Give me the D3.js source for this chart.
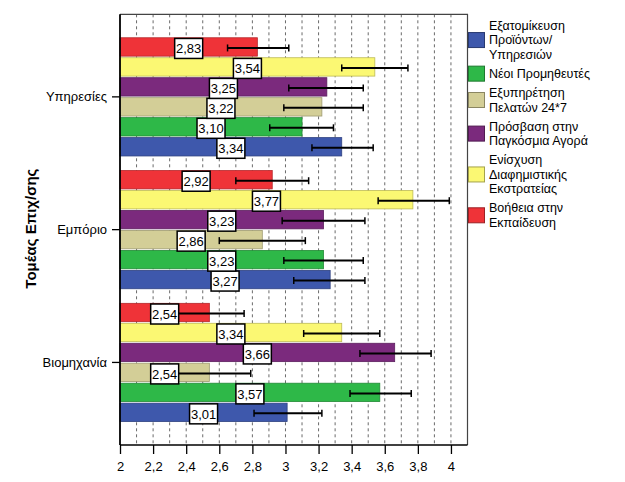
<!DOCTYPE html>
<html><head><meta charset="utf-8">
<script src="https://cdn.jsdelivr.net/npm/d3@7"></script>
<style>
html,body{margin:0;padding:0;background:#fff;}
svg{display:block;font-family:"Liberation Sans",Arial,sans-serif;}
</style></head>
<body><svg id="chart" width="625" height="482"></svg>
<script>
// ---- data ----
const categories = ["Υπηρεσίες", "Εμπόριο", "Βιομηχανία"];
// series in legend order
const seriesKeys = ["blue", "green", "beige", "purple", "yellow", "red"];
const legendLabels = [
  ["Εξατομίκευση", "Προϊόντων/", "Υπηρεσιών"],
  ["Νέοι Προμηθευτές"],
  ["Εξυπηρέτηση", "Πελατών 24*7"],
  ["Πρόσβαση στην", "Παγκόσμια Αγορά"],
  ["Ενίσχυση", "Διαφημιστικής", "Εκστρατείας"],
  ["Βοήθεια στην", "Εκπαίδευση"]
];
const seriesColors = ["#3E58AC", "#2EB848", "#D3CE97", "#7B2A7D", "#FBF873", "#EF3338"];
// values per series, in category order
const valBlue   = [3.34, 3.27, 3.01];
const valGreen  = [3.10, 3.23, 3.57];
const valBeige  = [3.22, 2.86, 2.54];
const valPurple = [3.25, 3.23, 3.66];
const valYellow = [3.54, 3.77, 3.34];
const valRed    = [2.83, 2.92, 2.54];
// confidence interval bounds
const lowBlue   = [3.16, 3.05, 2.81];
const highBlue  = [3.53, 3.48, 3.22];
const lowGreen  = [2.905, 2.99, 3.39];
const highGreen = [3.29, 3.47, 3.76];
const lowBeige  = [2.99, 2.60, 2.29];
const highBeige = [3.47, 3.12, 2.79];
const lowPurple = [3.02, 2.98, 3.45];
const highPurple= [3.47, 3.48, 3.88];
const lowYellow = [3.34, 3.56, 3.11];
const highYellow= [3.74, 3.99, 3.57];
const lowRed    = [2.65, 2.70, 2.34];
const highRed   = [3.02, 3.14, 2.75];
const xTicks = [2, 2.2, 2.4, 2.6, 2.8, 3, 3.2, 3.4, 3.6, 3.8, 4];
const xGrid = d3.range(21, 41).map(d => d / 10);
const yTitle = "Τομέας Επιχ/σης";

const values = [valBlue, valGreen, valBeige, valPurple, valYellow, valRed];
const lows = [lowBlue, lowGreen, lowBeige, lowPurple, lowYellow, lowRed];
const highs = [highBlue, highGreen, highBeige, highPurple, highYellow, highRed];

// ---- layout ----
const svg = d3.select("#chart");
const L = 120, R = 467.5, T = 14.3, B = 445;
const x = d3.scaleLinear().domain([2, 4.1]).range([L, R]);
const y0 = d3.scaleBand().domain(categories).range([T, B]).paddingInner(0.0977).paddingOuter(0.1707);
// bars inside a group, top to bottom: reverse legend order
const barOrder = seriesKeys.slice().reverse();
const y1 = d3.scaleBand().domain(barOrder).range([0, y0.bandwidth()]).paddingInner(0.08).paddingOuter(0.04);

// grid
svg.append("g").selectAll("line").data(xGrid).join("line")
  .attr("x1", d => x(d)).attr("x2", d => x(d))
  .attr("y1", T).attr("y2", B)
  .attr("stroke", "#6a6a6a").attr("stroke-width", 1)
  .attr("stroke-dasharray", "3,3");

// frame top/right
svg.append("path")
  .attr("d", `M${L},${T}H${R}V${B}`)
  .attr("fill", "none").attr("stroke", "#444").attr("stroke-width", 1.2);

// data rows
const rows = [];
categories.forEach((c, ci) => {
  seriesKeys.forEach((k, si) => {
    rows.push({cat: c, key: k, color: seriesColors[si], v: values[si][ci], lo: lows[si][ci], hi: highs[si][ci]});
  });
});

const g = svg.append("g");
// bars
g.selectAll("rect.bar").data(rows).join("rect").attr("class", "bar")
  .attr("x", x(2))
  .attr("y", d => y0(d.cat) + y1(d.key))
  .attr("width", d => x(d.v) - x(2))
  .attr("height", y1.bandwidth())
  .attr("fill", d => d.color)
  .attr("stroke", d => d3.color(d.color).darker(0.8))
  .attr("stroke-width", 0.8);

// error bars
const eb = g.selectAll("g.eb").data(rows).join("g").attr("class", "eb");
const cy = d => y0(d.cat) + y1(d.key) + y1.bandwidth() / 2 + 1;
eb.append("line")
  .attr("x1", d => x(d.lo)).attr("x2", d => x(d.hi))
  .attr("y1", cy).attr("y2", cy)
  .attr("stroke", "#000").attr("stroke-width", 2);
eb.append("line")
  .attr("x1", d => x(d.lo)).attr("x2", d => x(d.lo))
  .attr("y1", d => cy(d) - 3.5).attr("y2", d => cy(d) + 3.5)
  .attr("stroke", "#000").attr("stroke-width", 1.5);
eb.append("line")
  .attr("x1", d => x(d.hi)).attr("x2", d => x(d.hi))
  .attr("y1", d => cy(d) - 3.5).attr("y2", d => cy(d) + 3.5)
  .attr("stroke", "#000").attr("stroke-width", 1.5);

// value labels
const fmt = v => d3.format(".2f")(v).replace(".", ",");
const lab = g.selectAll("g.lab").data(rows).join("g").attr("class", "lab")
  .attr("transform", d => `translate(${(x(2) + x(d.v)) / 2},${y0(d.cat) + y1(d.key) + y1.bandwidth() / 2 + 1.5})`);
lab.append("rect")
  .attr("x", -14).attr("y", -10).attr("width", 28).attr("height", 20)
  .attr("fill", "#fff").attr("stroke", "#000").attr("stroke-width", 1.5);
lab.append("text")
  .attr("text-anchor", "middle").attr("dy", "0.36em")
  .attr("font-size", 13).attr("fill", "#000")
  .text(d => fmt(d.v));

// x axis
const xAxis = d3.axisBottom(x).tickValues(xTicks).tickSize(9).tickPadding(8)
  .tickFormat(d => String(d).replace(".", ","));
const xa = svg.append("g").attr("transform", `translate(0,${B})`).call(xAxis);
xa.select(".domain").attr("stroke", "#000").attr("stroke-width", 1.5).attr("d", `M${L},0H${R}`);
xa.selectAll(".tick line").attr("stroke", "#000").attr("stroke-width", 1.3);
xa.selectAll("text").attr("font-size", 13).attr("font-family", "Liberation Sans, Arial, sans-serif").attr("fill", "#000");

// y axis
const yAxis = d3.axisLeft(y0).tickSize(8).tickPadding(5);
const ya = svg.append("g").attr("transform", `translate(${L},0)`).call(yAxis);
ya.select(".domain").attr("stroke", "#000").attr("stroke-width", 1.8).attr("d", `M0,${T}V${B}`);
ya.selectAll(".tick line").attr("stroke", "#000").attr("stroke-width", 1.3);
ya.selectAll("text").attr("font-size", 13).attr("font-family", "Liberation Sans, Arial, sans-serif").attr("fill", "#000");

// y title
svg.append("text")
  .attr("transform", `translate(31,${(T + B) / 2 - 1}) rotate(-90)`)
  .attr("text-anchor", "middle").attr("dy", "0.35em")
  .attr("font-size", 15).attr("font-weight", "bold").attr("fill", "#000")
  .text(yTitle);

// legend
const lineH = 14.5, gap = 4.6;
let legTop = 18.3;
const leg = svg.append("g");
seriesKeys.forEach((k, i) => {
  const lines = legendLabels[i];
  const h = lines.length * lineH;
  const c = legTop + h / 2;
  leg.append("rect")
    .attr("x", 468.5).attr("y", c - 7.5).attr("width", 16).attr("height", 15)
    .attr("fill", seriesColors[i])
    .attr("stroke", d3.color(seriesColors[i]).darker(1.2)).attr("stroke-width", 1);
  const t0 = legTop;
  lines.forEach((t, j) => {
    leg.append("text")
      .attr("x", 489).attr("y", t0 + lineH / 2 + j * lineH)
      .attr("dy", "0.35em").attr("font-size", 12.5).attr("fill", "#000")
      .text(t);
  });
  legTop += h + gap;
});
</script>
</body></html>
